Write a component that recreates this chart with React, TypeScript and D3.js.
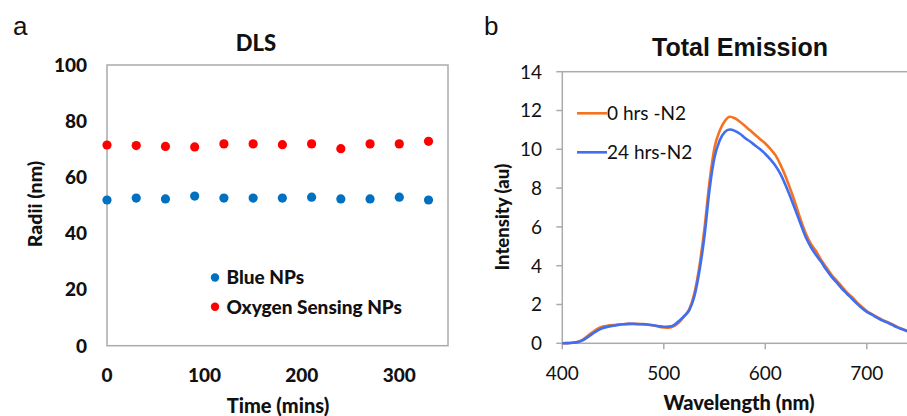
import React from "react";
import * as d3 from "d3";

// ---- Panel a: DLS ----
const timeMins = [0, 30, 60, 90, 120, 150, 180, 210, 240, 270, 300, 330];
const blueNPs = [51.9, 52.6, 52.3, 53.3, 52.6, 52.6, 52.6, 52.9, 52.3, 52.3, 52.9, 51.9];
const oxygenNPs = [71.5, 71.3, 71.0, 70.8, 71.9, 71.9, 71.6, 71.9, 70.2, 71.9, 71.9, 72.8];
const dlsYTicks = [0, 20, 40, 60, 80, 100];
const dlsXTicks = [0, 100, 200, 300];

// ---- Panel b: Total Emission ----
const wavelength = [
  400, 405, 410, 415, 420, 425, 430, 435, 440, 445, 450, 455, 460, 465, 470, 475, 480, 485, 490, 495,
  500, 505, 510, 515, 520, 525, 530, 535, 540, 545, 550, 555, 560, 565, 570, 575, 580, 585, 590, 595,
  600, 605, 610, 615, 620, 625, 630, 635, 640, 645, 650, 655, 660, 665, 670, 675, 680, 685, 690, 695,
  700, 705, 710, 715, 720, 725, 730, 735, 740,
];
const hrs0 = [
  0.0, 0.01, 0.03, 0.07, 0.18, 0.38, 0.58, 0.76, 0.86, 0.91, 0.94, 0.96, 0.98, 1.0, 1.01, 1.0, 0.99, 0.96, 0.92, 0.86,
  0.82, 0.8, 0.88, 1.08, 1.38, 1.75, 2.55, 3.95, 5.9, 8.3, 10.1, 10.95, 11.45, 11.68, 11.6, 11.42, 11.2, 10.98, 10.75, 10.52,
  10.3, 10.02, 9.7, 9.2, 8.6, 7.9, 7.15, 6.35, 5.65, 5.12, 4.75, 4.3, 3.92, 3.55, 3.25, 2.95, 2.64, 2.4, 2.12, 1.88,
  1.66, 1.5, 1.36, 1.22, 1.1, 0.98, 0.85, 0.74, 0.64,
];
const hrs24 = [
  0.0, 0.01, 0.03, 0.06, 0.15, 0.32, 0.5, 0.67, 0.79, 0.86, 0.9, 0.95, 0.98, 1.0, 1.0, 0.98, 0.98, 0.96, 0.93, 0.88,
  0.85, 0.86, 0.94, 1.15, 1.4, 1.7, 2.4, 3.7, 5.5, 7.9, 9.6, 10.45, 10.88, 11.02, 10.95, 10.8, 10.58, 10.4, 10.2, 10.0,
  9.76, 9.48, 9.15, 8.72, 8.15, 7.5, 6.82, 6.12, 5.45, 4.95, 4.55, 4.2, 3.8, 3.45, 3.15, 2.85, 2.58, 2.32, 2.06, 1.82,
  1.62, 1.48, 1.32, 1.18, 1.08, 0.95, 0.82, 0.72, 0.62,
];
const emYTicks = [0, 2, 4, 6, 8, 10, 12, 14];
const emXTicks = [400, 500, 600, 700];

const W = 907;
const H = 416;
const CAL = "Lato, 'Open Sans', sans-serif";
const ARIAL = "'Liberation Sans', Arial, sans-serif";
const AXIS = "#ababab";

export default function App() {
  // panel a scales
  const xa = d3.scaleLinear().domain([0, 350]).range([107, 448]);
  const ya = d3.scaleLinear().domain([0, 100]).range([345.7, 65]);
  // panel b scales
  const xb = d3.scaleLinear().domain([400, 800]).range([562.3, 968.3]);
  const yb = d3.scaleLinear().domain([0, 14]).range([343.3, 71.7]);

  const line = d3
    .line<number>()
    .x((_, i) => xb(wavelength[i]))
    .y((d) => yb(d))
    .curve(d3.curveMonotoneX);

  const orange = "#F37320";
  const blue = "#3F6EF0";

  return (
    <svg
      width={W}
      height={H}
      style={{ position: "absolute", left: 0, top: 0, background: "#fff" }}
    >
      <rect x={0} y={0} width={W} height={H} fill="#fff" />
      {/* ---------- Panel a ---------- */}
      <text x={13} y={35} fontFamily={ARIAL} fontSize={26} fill="#111">
        a
      </text>
      <text x={256} y={51} textAnchor="middle" fontFamily={CAL} fontWeight={900} fontSize={22} fill="#111">
        DLS
      </text>
      <rect
        x={xa(0)}
        y={ya(100)}
        width={xa(350) - xa(0)}
        height={ya(0) - ya(100)}
        fill="none"
        stroke={AXIS}
        strokeWidth={1.5}
      />
      {dlsYTicks.map((t) => (
        <text
          key={"ya" + t}
          x={87}
          y={ya(t)}
          dy="0.36em"
          textAnchor="end"
          fontFamily={CAL}
          fontWeight={900}
          fontSize={19}
          fill="#111"
        >
          {t}
        </text>
      ))}
      {dlsXTicks.map((t) => (
        <text
          key={"xa" + t}
          x={xa(t)}
          y={382}
          textAnchor="middle"
          fontFamily={CAL}
          fontWeight={900}
          fontSize={19}
          fill="#111"
        >
          {t}
        </text>
      ))}
      <text
        transform={`translate(${42},${204}) rotate(-90)`}
        textAnchor="middle"
        fontFamily={CAL}
        fontWeight={900}
        fontSize={19.5}
        fill="#111"
      >
        Radii (nm)
      </text>
      <text x={278} y={413} textAnchor="middle" fontFamily={CAL} fontWeight={900} fontSize={20} fill="#111">
        Time (mins)
      </text>
      {timeMins.map((t, i) => (
        <circle key={"r" + i} cx={xa(t)} cy={ya(oxygenNPs[i])} r={4.6} fill="#FF0000" />
      ))}
      {timeMins.map((t, i) => (
        <circle key={"b" + i} cx={xa(t)} cy={ya(blueNPs[i])} r={4.6} fill="#0070C0" />
      ))}
      {/* legend a */}
      <circle cx={215} cy={277.5} r={4.2} fill="#0070C0" />
      <text x={226.5} y={277.5} dy="0.36em" fontFamily={CAL} fontWeight={900} fontSize={19} fill="#111">
        Blue NPs
      </text>
      <circle cx={215} cy={306.7} r={4.2} fill="#FF0000" />
      <text x={226.5} y={306.7} dy="0.36em" fontFamily={CAL} fontWeight={900} fontSize={19} fill="#111">
        Oxygen Sensing NPs
      </text>

      {/* ---------- Panel b ---------- */}
      <text x={484} y={35} fontFamily={ARIAL} fontSize={26} fill="#111">
        b
      </text>
      <text x={740} y={56} textAnchor="middle" fontFamily={ARIAL} fontWeight={700} fontSize={25} fill="#111">
        Total Emission
      </text>
      <rect
        x={xb(400)}
        y={yb(14)}
        width={xb(800) - xb(400)}
        height={yb(0) - yb(14)}
        fill="none"
        stroke={AXIS}
        strokeWidth={1.5}
      />
      {emYTicks.map((t) => (
        <g key={"yb" + t}>
          <line x1={xb(400) - 6} x2={xb(400)} y1={yb(t)} y2={yb(t)} stroke={AXIS} strokeWidth={1.5} />
          <text
            x={542}
            y={yb(t)}
            dy="0.36em"
            textAnchor="end"
            fontFamily={CAL}
            fontSize={19}
            fill="#111"
          >
            {t}
          </text>
        </g>
      ))}
      {emXTicks.map((t) => (
        <g key={"xb" + t}>
          <line x1={xb(t)} x2={xb(t)} y1={yb(0)} y2={yb(0) + 6} stroke={AXIS} strokeWidth={1.5} />
          <text
            x={xb(t)}
            y={380}
            textAnchor="middle"
            fontFamily={CAL}
            fontSize={19}
            fill="#111"
          >
            {t}
          </text>
        </g>
      ))}
      <text
        transform={`translate(${509},${217}) rotate(-90)`}
        textAnchor="middle"
        fontFamily={CAL}
        fontWeight={900}
        fontSize={18.5}
        fill="#111"
      >
        Intensity (au)
      </text>
      <text x={739} y={410} textAnchor="middle" fontFamily={CAL} fontWeight={900} fontSize={20} fill="#111">
        Wavelength (nm)
      </text>
      <path d={line(hrs0) || ""} fill="none" stroke={orange} strokeWidth={2.6} strokeLinejoin="round" />
      <path d={line(hrs24) || ""} fill="none" stroke={blue} strokeWidth={2.6} strokeLinejoin="round" />
      {/* legend b */}
      <line x1={577} x2={607} y1={113.3} y2={113.3} stroke={orange} strokeWidth={2.6} />
      <text x={607} y={113.3} dy="0.36em" fontFamily={CAL} fontSize={19} fill="#111">
        0 hrs -N2
      </text>
      <line x1={577} x2={607} y1={152.3} y2={152.3} stroke={blue} strokeWidth={2.6} />
      <text x={607} y={152.3} dy="0.36em" fontFamily={CAL} fontSize={19} fill="#111">
        24 hrs-N2
      </text>
    </svg>
  );
}
